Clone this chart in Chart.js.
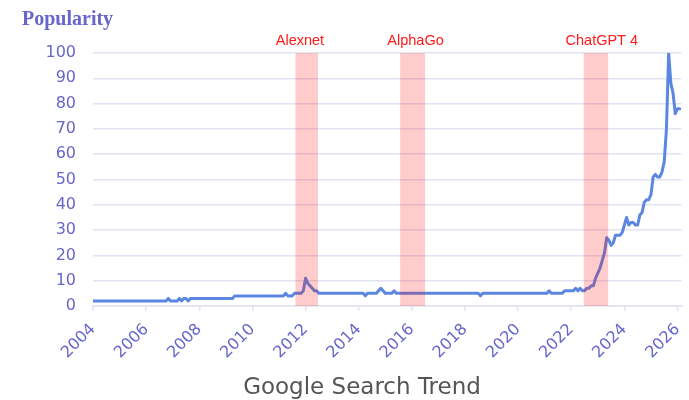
<!DOCTYPE html>
<html><head><meta charset="utf-8">
<script src="https://cdn.jsdelivr.net/npm/chart.js@4.4.1/dist/chart.umd.min.js"></script>
<style>html,body{margin:0;padding:0;background:#fff;}#wrap{width:689px;height:400px;}</style>
</head><body><div id="wrap"><canvas id="c" width="689" height="400"></canvas></div>
<script>
// Monthly Google Trends popularity, Jan 2004 .. Feb 2026
const startYear = 2004;
const popularity = [
  2,2,2,2,2,2,2,2,2,2,2,2,            // 2004
  2,2,2,2,2,2,2,2,2,2,2,2,            // 2005
  2,2,2,2,2,2,2,2,2,2,3,2,            // 2006
  2,2,2,3,2,3,3,2,3,3,3,3,            // 2007
  3,3,3,3,3,3,3,3,3,3,3,3,            // 2008
  3,3,3,3,4,4,4,4,4,4,4,4,            // 2009
  4,4,4,4,4,4,4,4,4,4,4,4,            // 2010
  4,4,4,5,4,4,4,5,5,5,5,6,            // 2011
  11,9,8,7,6,6,5,5,5,5,5,5,           // 2012
  5,5,5,5,5,5,5,5,5,5,5,5,            // 2013
  5,5,5,4,5,5,5,5,5,6,7,6,            // 2014
  5,5,5,5,6,5,5,5,5,5,5,5,            // 2015
  5,5,5,5,5,5,5,5,5,5,5,5,            // 2016
  5,5,5,5,5,5,5,5,5,5,5,5,            // 2017
  5,5,5,5,5,5,5,4,5,5,5,5,            // 2018
  5,5,5,5,5,5,5,5,5,5,5,5,            // 2019
  5,5,5,5,5,5,5,5,5,5,5,5,            // 2020
  5,5,6,5,5,5,5,5,5,6,6,6,            // 2021
  6,6,7,6,7,6,6,7,7,8,8,11,           // 2022
  13,15,18,21,27,26,24,25,28,28,28,29,// 2023
  32,35,32,33,33,32,32,36,37,41,42,42,// 2024
  44,51,52,51,51,53,57,70,100,88,84,76,// 2025
  78,78                               // 2026
];
const tickYears = [2004,2006,2008,2010,2012,2014,2016,2018,2020,2022,2024,2026];
const yTicks = [0,10,20,30,40,50,60,70,80,90,100];
const eventNames = ['Alexnet','AlphaGo','ChatGPT 4'];
const eventStart = [2011.62, 2015.56, 2022.47];
const eventEnd   = [2012.47, 2016.50, 2023.39];
const eventLabelX = [2011.79, 2016.14, 2023.15];

const TICK_COLOR = '#6666cc';
const GRID_COLOR = '#e2e2f3';

const overlay = {
  id: 'overlay',
  afterDatasetsDraw(chart) {
    const {ctx, chartArea, scales:{x}} = chart;
    ctx.save();
    ctx.fillStyle = 'rgba(255,0,0,0.2)';
    for (let i = 0; i < eventNames.length; i++) {
      const a = x.getPixelForValue(eventStart[i]);
      const b = x.getPixelForValue(eventEnd[i]);
      ctx.fillRect(a, chartArea.top, b - a, chartArea.bottom - chartArea.top);
    }
    ctx.restore();
  },
  afterDraw(chart) {
    const {ctx, scales:{x}} = chart;
    ctx.save();
    ctx.fillStyle = '#ff1a1a';
    ctx.font = '14.5px "Liberation Sans", Arial, sans-serif';
    ctx.textAlign = 'center';
    ctx.textBaseline = 'middle';
    for (let i = 0; i < eventNames.length; i++) {
      ctx.fillText(eventNames[i], x.getPixelForValue(eventLabelX[i]), 41);
    }
    ctx.fillStyle = TICK_COLOR;
    ctx.font = 'bold 20px "Liberation Serif", "Times New Roman", serif';
    ctx.textAlign = 'left';
    ctx.textBaseline = 'alphabetic';
    ctx.fillText('Popularity', 22, 25);
    ctx.fillStyle = '#555555';
    ctx.font = '23px "DejaVu Sans", Verdana, sans-serif';
    ctx.textAlign = 'center';
    ctx.textBaseline = 'middle';
    ctx.fillText('Google Search Trend', 362, 388);
    ctx.restore();
  }
};

new Chart(document.getElementById('c'), {
  type: 'line',
  data: {
    datasets: [{
      data: popularity.map((v, i) => ({x: startYear + i / 12, y: v})),
      borderColor: '#5b87e0',
      borderWidth: 3,
      pointRadius: 0,
      tension: 0,
      borderJoinStyle: 'round',
      borderCapStyle: 'round',
      fill: false
    }]
  },
  options: {
    responsive: false,
    animation: false,
    devicePixelRatio: 1,
    layout: {padding: {top: 53, right: 7.5, left: 0, bottom: 0}},
    plugins: {legend: {display: false}, tooltip: {enabled: false}, title: {display: false}},
    scales: {
      x: {
        type: 'linear',
        min: 2004,
        max: 2026.15,
        afterBuildTicks: s => { s.ticks = tickYears.map(v => ({value: v})); },
        afterFit: s => { s.height = 94; s.paddingLeft = 0; s.paddingRight = 0; },
        ticks: {
          color: TICK_COLOR,
          font: {family: '"DejaVu Sans", Verdana, sans-serif', size: 16},
          minRotation: 45, maxRotation: 45, autoSkip: false,
          padding: 9,
          callback: v => String(v)
        },
        grid: {drawOnChartArea: false, color: GRID_COLOR, tickLength: 5, lineWidth: 1.5},
        border: {color: GRID_COLOR, width: 1.5}
      },
      y: {
        min: 0, max: 100,
        afterBuildTicks: s => { s.ticks = yTicks.map(v => ({value: v})); },
        afterFit: s => { s.width = 93; s.paddingTop = 0; s.paddingBottom = 0; },
        ticks: {
          color: TICK_COLOR,
          font: {family: '"DejaVu Sans", Verdana, sans-serif', size: 16},
          padding: 17,
          callback: v => String(v)
        },
        grid: {color: GRID_COLOR, drawTicks: false, lineWidth: 1.5},
        border: {display: false}
      }
    }
  },
  plugins: [overlay]
});
</script>
</body></html>
